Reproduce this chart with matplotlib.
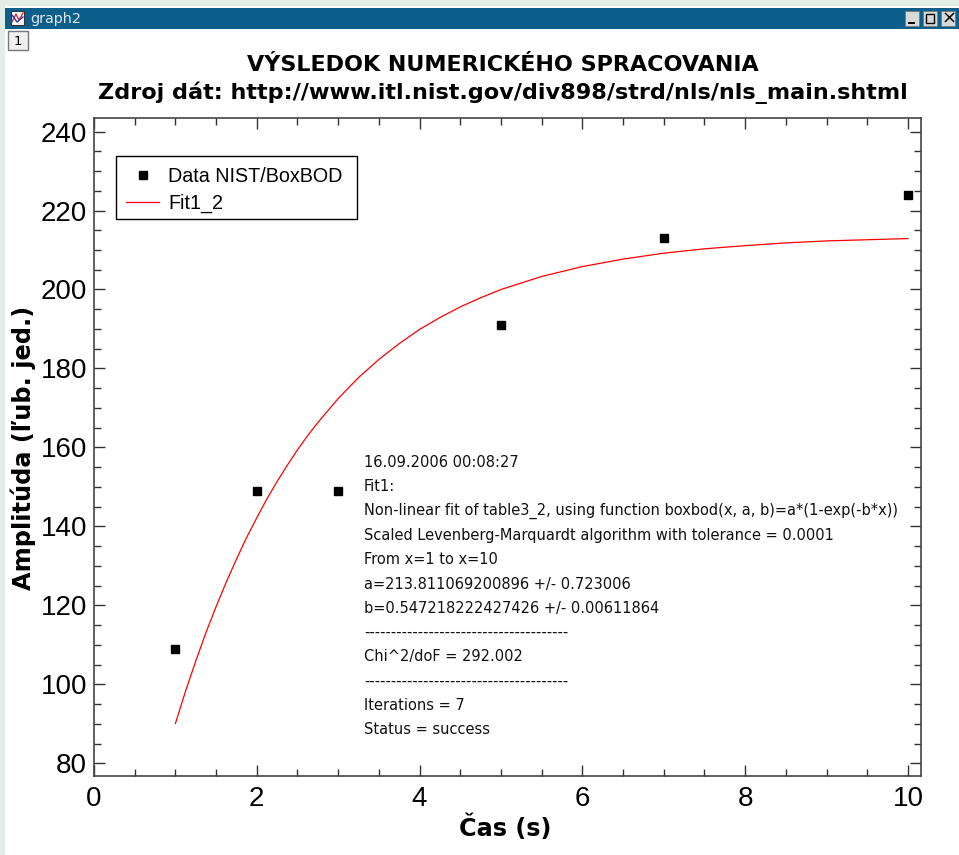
import matplotlib
matplotlib.use('Agg')
import matplotlib.pyplot as plt
from matplotlib.patches import Rectangle
from matplotlib.ticker import MultipleLocator

x_data = [1, 2, 3, 5, 7, 10]
y_data = [109, 149, 149, 191, 213, 224]

x_fit = [1, 1.125, 1.25, 1.375, 1.5, 1.625, 1.75, 1.875, 2, 2.125, 2.25, 2.375, 2.5, 2.625, 2.75,
         3, 3.25, 3.5, 3.75, 4, 4.25, 4.5, 4.75, 5, 5.5, 6, 6.5, 7, 7.5, 8, 8.5, 9, 9.5, 10]
y_fit = [90.1, 98.3, 105.9, 113.1, 119.7, 125.9, 131.7, 137.2, 142.2, 147.0, 151.4, 155.5, 159.4,
         163.0, 166.3, 172.4, 177.7, 182.3, 186.3, 189.9, 192.9, 195.6, 197.9, 200.0, 203.3,
         205.8, 207.7, 209.2, 210.3, 211.1, 211.8, 212.3, 212.6, 212.9]

x_ticks = [0, 2, 4, 6, 8, 10]
y_ticks = [80, 100, 120, 140, 160, 180, 200, 220, 240]

title_lines = ['VÝSLEDOK NUMERICKÉHO SPRACOVANIA',
               'Zdroj dát: http://www.itl.nist.gov/div898/strd/nls/nls_main.shtml']
note_lines = ['16.09.2006 00:08:27',
              'Fit1:',
              'Non-linear fit of table3_2, using function boxbod(x, a, b)=a*(1-exp(-b*x))',
              'Scaled Levenberg-Marquardt algorithm with tolerance = 0.0001',
              'From x=1 to x=10',
              'a=213.811069200896 +/- 0.723006',
              'b=0.547218222427426 +/- 0.00611864',
              '--------------------------------------',
              'Chi^2/doF = 292.002',
              '--------------------------------------',
              'Iterations = 7',
              'Status = success']

W, H = 959, 855
fig = plt.figure(figsize=(W / 100, H / 100), dpi=100, facecolor='white')


def px(x, y, w, h, **kw):
    # rectangle in picture pixels, y counted from the top
    fig.add_artist(Rectangle((x / W, 1 - (y + h) / H), w / W, h / H,
                             transform=fig.transFigure, lw=kw.pop('lw', 0), **kw))


def tx(x, y, s, **kw):
    fig.text(x / W, 1 - y / H, s, **kw)


# window frame
px(0, 0, 5, H, fc='#e4ece8')
px(0, 0, W, 6, fc='#e4ece8')
px(5, 8, W - 5, 21, fc='#0c5f8a')
px(11, 11, 13, 14, fc='white', ec='#333333', lw=0.8)
fig.add_artist(plt.Line2D([12 / W, 16 / W, 19 / W, 23 / W],
                          [1 - 22 / H, 1 - 14 / H, 1 - 20 / H, 1 - 13 / H], color='#d03030', lw=1))
fig.add_artist(plt.Line2D([12 / W, 17 / W, 23 / W],
                          [1 - 15 / H, 1 - 22 / H, 1 - 17 / H], color='#3030d0', lw=1))
tx(30, 18.5, 'graph2', color='#dfe8ee', fontsize=10.4, va='center', family='DejaVu Sans')
for bx in [905, 923, 941]:
    px(bx, 11, 14, 15, fc='#d8d8d8', ec='#777777', lw=0.6)
px(908, 22, 7, 2, fc='black')
px(926, 14, 8, 9, fc='none', ec='black', lw=1)
tx(949, 18.5, '×', fontsize=13, ha='center', va='center', color='black')
px(8, 31, 20, 19, fc='#f0f0f0', ec='#777777', lw=1)
tx(18, 41.5, '1', fontsize=9.5, ha='center', va='center', family='DejaVu Sans')

# titles
tx(503, 65, title_lines[0], fontsize=16.05, fontweight='bold', ha='center', va='center',
   family='DejaVu Sans')
tx(503, 93, title_lines[1], fontsize=16.1, fontweight='bold', ha='center', va='center',
   family='DejaVu Sans')

L, R, T, B = 94, 921, 118.5, 776
ax = fig.add_axes([L / W, 1 - B / H, (R - L) / W, (B - T) / H])
ax.set_xlim(0, 10.16)
ax.set_ylim(76.8, 243.3)

ax.plot(x_fit, y_fit, color='red', lw=0.9, label='Fit1_2', zorder=2)
ax.plot(x_data, y_data, ls='none', marker='s', ms=5.8, color='black',
        label='Data NIST/BoxBOD', zorder=3)

ax.set_xticks(x_ticks)
ax.set_yticks(y_ticks)
ax.xaxis.set_minor_locator(MultipleLocator(0.5))
ax.yaxis.set_minor_locator(MultipleLocator(5))
ax.tick_params(which='major', direction='in', length=8, width=1, top=True, right=True,
               color='#333333')
ax.tick_params(which='minor', direction='in', length=5, width=1, top=True, right=True,
               color='#333333')
ax.tick_params(axis='x', which='major', pad=7)
ax.tick_params(axis='y', which='major', pad=5)
for lab in ax.get_xticklabels() + ax.get_yticklabels():
    lab.set_family('Liberation Sans')
    lab.set_fontsize(20)
for sp in ax.spines.values():
    sp.set_linewidth(1.2)
    sp.set_color('#444444')

ax.set_xlabel('Čas (s)', fontsize=17.3, fontweight='bold', family='DejaVu Sans')
ax.set_ylabel('Amplitúda (ľub. jed.)', fontsize=17.3, fontweight='bold', family='DejaVu Sans')
ax.xaxis.set_label_coords((505 - L) / (R - L), 1 - (828 - T) / (B - T), transform=ax.transAxes)
ax.xaxis.label.set_va('center')
ax.yaxis.set_label_coords((23 - L) / (R - L), 1 - (448 - T) / (B - T), transform=ax.transAxes)
ax.yaxis.label.set_va('center')

# legend box drawn apart so it gets the exact size
ax.add_patch(Rectangle((116 / W, 1 - 219 / H), 241 / W, 63 / H, transform=fig.transFigure,
                       fc='white', ec='black', lw=1, zorder=4))
handles, labels = ax.get_legend_handles_labels()
leg = ax.legend(handles[::-1], labels[::-1], loc='upper left',
                bbox_to_anchor=((116 - L) / (R - L), 1 - (157 - T) / (B - T)),
                borderaxespad=0, fancybox=False, frameon=False,
                prop={'family': 'Liberation Sans', 'size': 14.2}, labelspacing=0.4,
                handlelength=1.7, handletextpad=0.45, borderpad=0.5)

# fit report
for i, s in enumerate(note_lines):
    tx(364, 462.5 + i * 24.3, s, fontsize=10.5, va='center', family='DejaVu Sans', color='#111111')

fig.savefig('out.png', dpi=100)
